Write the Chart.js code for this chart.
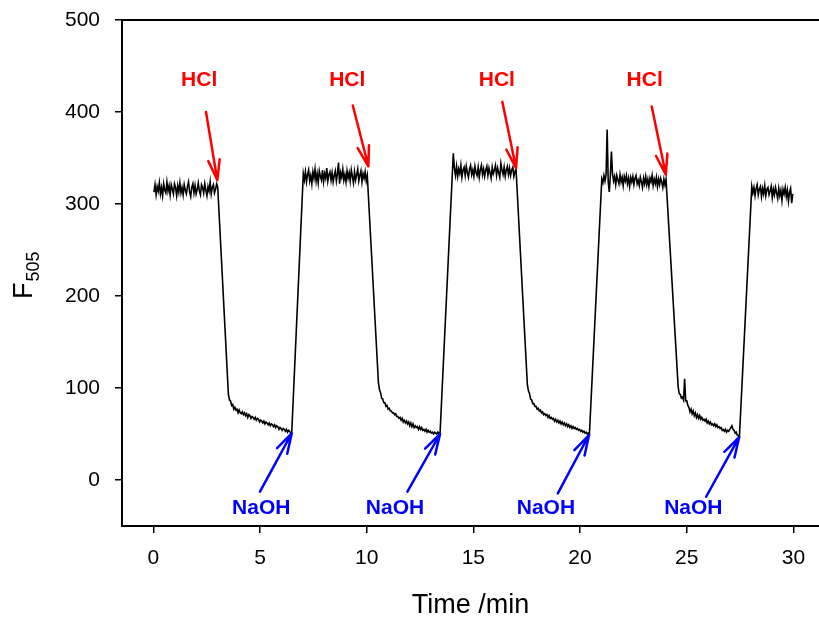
<!DOCTYPE html>
<html>
<head>
<meta charset="utf-8">
<script src="https://cdn.jsdelivr.net/npm/chart.js@4.4.1/dist/chart.umd.min.js"></script>
<style>
  html, body { margin: 0; padding: 0; background: #fff; }
  #wrap { width: 819px; height: 618px; }
</style>
</head>
<body>
<div id="wrap"><canvas id="c" width="819" height="618"></canvas></div>
<script>
// ---- axis ticks ----
const xTicks = [0, 5, 10, 15, 20, 25, 30];
const yTicks = [0, 100, 200, 300, 400, 500];

// ---- trace segments (time range in min, F505 readings) ----
const segStart = [0.03, 3.52, 7.03, 10.55, 14.06, 17.53, 21.02, 24.60, 28.05];
const segEnd   = [3.02, 6.49, 10.03, 13.44, 17.00, 20.44, 24.03, 27.47, 29.97];

const plateau1 = [313,321,310,319,314,323,311,318,309,322,
                  315,312,324,314,320,310,321,316,311,322,
                  318,309,320,313,323,312,318,310,321,315,
                  311,319,324,313,308,318,322,312,320,311,
                  316,323,314,310,321,318,312,322,315,309,
                  319,314,324,311,318,321,312,316,322,318];
const decay1 = [93,87,86,81,82,77,79,76,77,73,
                76,73,72,74,71,73,70,72,68,71,
                70,67,69,68,66,68,65,67,66,63,
                65,64,62,64,61,63,62,60,62,59,
                61,60,58,60,57,59,58,55,57,56,
                54,56,55,53,55,52,54,53,51,52];
const plateau2 = [333,326,335,324,332,337,325,331,322,335,
                  328,338,325,333,323,336,330,326,337,324,
                  333,328,339,325,332,335,326,334,324,331,
                  336,325,333,345,322,334,329,338,326,332,
                  324,336,328,334,325,337,330,323,335,326,
                  332,338,325,331,336,324,333,328,335,325,331];
const decay2 = [106,98,95,89,88,84,84,80,81,77,
                78,75,75,73,73,71,72,69,69,67,
                68,65,67,63,65,62,64,61,63,59,
                62,58,61,57,59,57,58,55,58,55,
                57,54,55,53,55,52,54,52,53,51,
                52,50,52,51,50,52,50,51];
const plateau3 = [355,339,331,341,330,338,333,342,329,337,
                  340,331,341,334,329,338,342,332,337,330,
                  341,334,331,340,329,337,342,332,338,330,
                  337,341,331,339,334,328,340,333,337,342,
                  331,339,334,329,344,337,332,340,330,337,
                  341,332,339,331,337,340,330,335,338];
const decay3 = [104,97,94,88,87,83,83,80,80,77,
                78,75,76,73,74,71,72,70,71,68,
                70,67,68,66,67,64,66,63,65,62,
                64,61,63,60,62,59,61,58,60,57,
                59,56,58,56,57,55,56,54,55,53,
                54,52,53,51,52,50,51,50];
const plateau4 = [327,323,331,325,332,381,324,313,331,357,
                  333,325,330,321,331,326,322,332,324,329,
                  320,330,325,331,322,328,319,329,324,330,
                  321,328,331,322,326,320,329,324,318,328,
                  322,330,321,327,319,328,324,331,320,327,
                  322,329,319,327,321,328,324,318,327,321,327];
const decay4 = [101,94,93,89,90,87,110,86,86,81,
                79,74,77,72,75,70,73,68,71,67,
                70,66,68,65,66,64,66,62,64,61,
                63,60,61,59,61,58,60,57,58,56,
                57,54,55,53,55,52,54,53,55,57,
                59,55,54,51,52,49,48,47];
const plateau5 = [319,312,318,309,317,321,310,316,319,308,
                  317,311,320,309,316,318,310,314,319,307,
                  316,310,318,312,306,317,309,315,304,316,
                  311,318,308,315,303,313,317,301,311];

const segValues = [plateau1, decay1, plateau2, decay2, plateau3, decay3, plateau4, decay4, plateau5];

// ---- annotations (data coordinates) ----
const hclLabelT = [2.15, 9.09, 16.10, 23.03];
const hclLabelV = 435;
const hclFromT = [2.47, 9.35, 16.36, 23.36];
const hclFromV = [400, 407, 411, 406];
const hclToT   = [3.00, 10.08, 17.00, 24.02];
const hclToV   = [326, 341, 339, 332];

const naohLabelT = [5.06, 11.33, 18.40, 25.31];
const naohLabelV = -30.4;
const naohFromT = [5.00, 11.91, 18.96, 25.91];
const naohFromV = [-12.7, -12.7, -14.5, -18.2];
const naohToT   = [6.49, 13.44, 20.42, 27.46];
const naohToV   = [50.8, 50.0, 48.9, 46.7];

// ---- build points ----
const points = [];
segValues.forEach((vals, s) => {
  const n = vals.length;
  for (let i = 0; i < n; i++) {
    const t = segStart[s] + (segEnd[s] - segStart[s]) * i / (n - 1);
    points.push({ x: t, y: vals[i] });
  }
});

const FONT = "'Liberation Sans', Arial, Helvetica, sans-serif";

function drawArrow(ctx, x1, y1, x2, y2, color) {
  const ang = Math.atan2(y2 - y1, x2 - x1);
  const hl = 21, ha = 16 * Math.PI / 180;
  ctx.save();
  ctx.strokeStyle = color;
  ctx.lineWidth = 2.5;
  ctx.lineCap = 'round';
  ctx.lineJoin = 'round';
  ctx.beginPath();
  ctx.moveTo(x1, y1);
  ctx.lineTo(x2, y2);
  ctx.moveTo(x2 - hl * Math.cos(ang - ha), y2 - hl * Math.sin(ang - ha));
  ctx.lineTo(x2, y2);
  ctx.lineTo(x2 - hl * Math.cos(ang + ha), y2 - hl * Math.sin(ang + ha));
  ctx.stroke();
  ctx.restore();
}

const annotPlugin = {
  id: 'annot',
  afterDatasetsDraw(chart) {
    const ctx = chart.ctx, xs = chart.scales.x, ys = chart.scales.y;
    ctx.save();
    ctx.font = "bold 21px " + FONT;
    ctx.textAlign = 'center';
    ctx.textBaseline = 'middle';
    for (let i = 0; i < hclLabelT.length; i++) {
      ctx.fillStyle = '#ff0000';
      ctx.fillText('HCl', xs.getPixelForValue(hclLabelT[i]), ys.getPixelForValue(hclLabelV));
      drawArrow(ctx, xs.getPixelForValue(hclFromT[i]), ys.getPixelForValue(hclFromV[i]),
                xs.getPixelForValue(hclToT[i]), ys.getPixelForValue(hclToV[i]), '#ff0000');
    }
    for (let i = 0; i < naohLabelT.length; i++) {
      ctx.fillStyle = '#0000ff';
      ctx.fillText('NaOH', xs.getPixelForValue(naohLabelT[i]), ys.getPixelForValue(naohLabelV));
      drawArrow(ctx, xs.getPixelForValue(naohFromT[i]), ys.getPixelForValue(naohFromV[i]),
                xs.getPixelForValue(naohToT[i]), ys.getPixelForValue(naohToV[i]), '#0000ff');
    }
    ctx.restore();
  },
  afterDraw(chart) {
    const ctx = chart.ctx, a = chart.chartArea;
    ctx.save();
    // top frame line
    ctx.strokeStyle = '#000';
    ctx.lineWidth = 2;
    ctx.beginPath();
    ctx.moveTo(a.left - 1, a.top);
    ctx.lineTo(a.right, a.top);
    ctx.stroke();
    // y axis title F505 with subscript
    const cy = (a.top + a.bottom) / 2;
    ctx.fillStyle = '#000';
    ctx.translate(32, cy + 26);
    ctx.rotate(-Math.PI / 2);
    ctx.textAlign = 'left';
    ctx.textBaseline = 'alphabetic';
    ctx.font = "27px " + FONT;
    ctx.fillText('F', 0, 0);
    const w = ctx.measureText('F').width;
    ctx.font = "18px " + FONT;
    ctx.fillText('505', w + 1, 7);
    ctx.restore();
  }
};

new Chart(document.getElementById('c'), {
  type: 'line',
  data: {
    datasets: [{
      data: points,
      borderColor: '#000',
      borderWidth: 1.6,
      pointRadius: 0,
      pointHoverRadius: 0,
      tension: 0,
      fill: false
    }]
  },
  options: {
    responsive: false,
    devicePixelRatio: 1,
    animation: false,
    events: [],
    layout: { padding: { top: 20, right: 0, bottom: 0, left: 0 } },
    plugins: { legend: { display: false }, tooltip: { enabled: false } },
    scales: {
      x: {
        type: 'linear',
        min: -1.467,
        max: 31.2,
        afterFit(s) { s.height = 92; s.paddingLeft = 0; s.paddingRight = 0; s.paddingTop = 0; s.paddingBottom = 0; },
        afterBuildTicks(s) { s.ticks = xTicks.map(v => ({ value: v })); },
        grid: { display: true, drawOnChartArea: false, drawTicks: true, tickLength: 7, color: '#000', lineWidth: 1.5 },
        border: { display: true, color: '#000', width: 2 },
        ticks: { padding: 13, color: '#000', font: { family: FONT, size: 21 }, maxRotation: 0, autoSkip: false },
        title: { display: true, text: 'Time /min', color: '#000', font: { family: FONT, size: 27, lineHeight: 0.9 }, padding: 0 }
      },
      y: {
        type: 'linear',
        min: -50,
        max: 500,
        afterFit(s) { s.width = 122; s.paddingLeft = 0; s.paddingRight = 0; s.paddingTop = 0; s.paddingBottom = 0; },
        afterBuildTicks(s) { s.ticks = yTicks.map(v => ({ value: v })); },
        grid: { display: true, drawOnChartArea: false, drawTicks: true, tickLength: 7, color: '#000', lineWidth: 1.5 },
        border: { display: true, color: '#000', width: 2 },
        ticks: { padding: 15, color: '#000', font: { family: FONT, size: 21 } }
      }
    }
  },
  plugins: [annotPlugin]
});
</script>
</body>
</html>
